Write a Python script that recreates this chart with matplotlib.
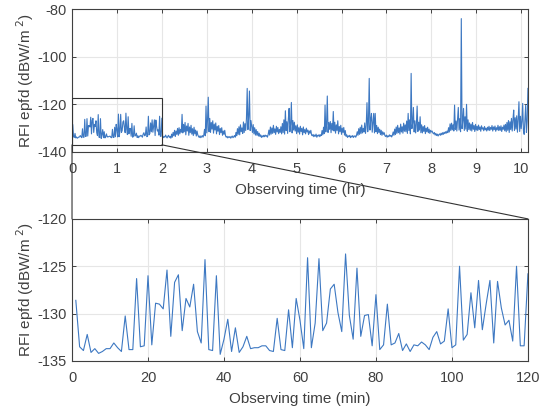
import numpy as np
import matplotlib
matplotlib.use("Agg")
import matplotlib.pyplot as plt
from matplotlib.patches import Rectangle, ConnectionPatch

plt.rcParams['font.family'] = ['Liberation Sans', 'DejaVu Sans']
plt.rcParams['axes.unicode_minus'] = False

# first two hours, one value per minute (minutes 1..120)
epfd_first2h = [
    -128.6, -133.5, -133.9, -132.2, -134.1, -133.7, -134.2, -134.0, -133.7, -133.7,
    -133.1, -133.6, -134.0, -130.25, -133.8, -133.8, -126.3, -133.5, -133.4, -126.0,
    -133.3, -128.9, -129.0, -129.5, -125.4, -132.4, -126.7, -125.9, -131.8, -128.4,
    -129.3, -126.9, -131.9, -133.1, -124.3, -133.8, -133.9, -126.0, -134.3, -132.7,
    -130.6, -134.0, -131.5, -134.1, -133.5, -132.4, -133.7, -133.6, -133.6, -133.4,
    -133.4, -133.9, -134.0, -130.5, -133.8, -133.9, -129.6, -133.6, -128.4, -130.7,
    -133.7, -124.1, -133.6, -131.0, -124.2, -131.8, -131.0, -127.4, -126.9, -129.9,
    -131.9, -123.7, -130.2, -132.7, -125.2, -132.4, -130.2, -130.1, -133.4, -128.0,
    -133.8, -133.3, -129.0, -133.3, -133.1, -132.1, -133.9, -133.2, -134.0, -133.3,
    -133.4, -133.0, -133.3, -133.8, -132.5, -131.9, -133.2, -132.9, -129.5, -133.6,
    -133.3, -125.0, -132.8, -132.2, -127.8, -131.5, -126.5, -131.7, -129.0, -126.5,
    -133.1, -126.6, -129.4, -131.2, -130.7, -132.9, -125.0, -133.4, -133.4, -125.8,
]

epfd_hour2 = [
    -133.2, -134.0, -133.5, -133.8, -132.9, -133.6, -134.1, -133.4, -133.0, -133.9, -133.5, -134.2,
    -132.5, -133.8, -131.8, -133.2, -130.9, -133.5, -131.2, -132.6, -130.1, -133.0, -129.8, -132.4,
    -130.5, -131.7, -124.2,
    -132.0, -128.4, -131.5, -127.6, -132.8, -129.1, -131.2, -128.0, -133.0, -129.5, -131.9, -128.8,
    -132.5, -130.2, -133.1, -129.6, -132.4, -130.8, -133.3, -131.2, -132.8,
    -133.5, -133.9, -133.2, -134.0, -133.6, -133.1, -133.8, -132.9,
    -130.5, -133.2, -120.7,
]
epfd_hour3 = [
    -132.0, -126.5, -117.0, -131.5,
    -125.9, -131.8, -127.6, -130.4, -126.9, -132.1, -128.3, -130.8, -127.8, -132.4, -129.2, -131.3,
    -128.9, -132.7, -130.1, -131.9, -129.8, -133.0, -131.2, -132.6, -130.9,
    -133.2, -133.8, -133.4, -134.1, -133.6, -133.9, -133.5, -134.2, -133.7, -133.3, -134.0, -133.6,
    -133.1, -133.8,
    -131.8, -133.2, -130.2, -132.6, -129.4, -132.8, -128.6, -131.5, -129.9, -132.2, -127.4, -131.8,
    -128.1, -131.0,
    -126.0, -113.3, -130.6, -125.2, -114.4, -131.0, -126.8, -129.5,
]
epfd_hour4 = [
    -131.8, -128.5, -132.4, -129.8, -132.9, -130.6, -133.0, -131.4, -133.3, -132.1,
    -133.5, -132.8, -133.9, -133.2, -133.7, -133.0, -133.6, -132.9, -133.4, -133.1, -133.8, -132.7,
    -130.8, -132.9, -129.5, -132.5, -129.9, -132.2, -128.8, -131.9, -130.3, -132.6, -129.2, -131.6,
    -129.7, -132.3, -130.5, -131.8, -129.4, -132.4,
    -128.0, -131.9, -126.5, -132.5, -122.7, -131.0, -127.3, -132.2, -126.0, -121.7, -131.5, -128.5,
    -119.2, -132.0, -126.8, -130.8, -127.5, -131.2,
    -129.0, -132.3,
]
epfd_hour5 = [
    -128.6, -131.7, -129.8, -132.5, -129.2, -131.4, -130.1, -132.8, -129.5, -131.9, -130.6, -132.4,
    -130.0, -131.6, -130.8, -132.7, -131.2, -132.1, -130.9, -132.9,
    -133.2, -132.6, -133.6, -132.9, -133.4, -132.5, -133.8, -133.0, -133.3, -132.7, -133.6, -132.8,
    -133.1,
    -131.0, -132.8, -129.6, -132.3, -120.3, -131.6, -128.4, -116.5, -131.8, -127.6, -130.5, -127.2,
    -131.9, -128.0, -130.8, -123.0,
    -131.2, -127.5, -132.1, -128.6, -131.0, -126.9, -132.4, -129.3, -131.5, -128.8, -132.6,
]
epfd_hour6 = [
    -130.0, -131.8, -129.7, -132.9, -131.0,
    -133.4, -132.8, -133.9, -133.2, -133.6, -133.0, -134.0, -133.3, -133.7, -133.1, -133.9, -133.4,
    -133.2, -133.8, -133.0,
    -131.5, -133.0, -130.2, -132.6, -129.6, -132.3, -128.7, -132.0, -130.1, -131.6, -127.8, -132.2,
    -128.9,
    -119.3, -131.5, -127.0, -109.1, -130.8, -126.2, -123.8, -131.7, -127.5, -123.8, -132.0, -123.8,
    -131.5,
    -128.9, -132.3, -129.6, -131.8, -130.4, -132.7, -130.9, -133.0, -131.5, -132.6, -131.9, -133.2,
    -133.5, -132.9,
]
epfd_hour7 = [
    -133.8, -133.2, -133.6, -132.8, -133.4, -133.0, -133.7, -132.9,
    -131.6, -133.0, -130.4, -132.7, -129.5, -132.2, -128.8, -131.9, -129.9, -132.5, -128.3, -131.6,
    -129.4, -132.1, -127.9, -131.3, -128.6,
    -131.5, -127.0, -132.2, -123.8, -131.0, -126.5, -132.4, -107.0, -130.2, -127.8, -121.3, -131.6,
    -126.9, -132.0, -128.2, -120.7, -131.4, -127.5, -130.8, -125.2, -131.9,
    -128.6, -132.0, -129.3, -131.4, -128.9, -132.3, -130.0, -131.5, -129.6, -131.9, -130.4, -132.2,
    -130.9, -131.6,
]
epfd_hour8 = [
    -131.2, -132.0,
    -132.4, -131.8, -132.9, -132.2, -133.1, -132.5, -133.3, -132.7, -132.4, -133.0, -132.1, -132.8,
    -131.9, -132.6, -131.7, -132.3, -131.5, -132.1, -131.2, -131.9,
    -129.8, -131.6, -128.2, -131.0, -127.9, -130.7, -128.6, -131.2, -120.3, -130.5,
    -127.0, -131.2, -126.4, -121.3, -130.8, -126.0, -131.5, -84.0, -130.2, -126.8, -121.7, -131.0,
    -125.2, -130.4, -120.0, -131.3, -126.5, -130.6,
    -127.8, -130.9, -128.3, -131.2, -127.6, -130.5, -128.9, -131.4, -128.4, -130.8,
]
epfd_hour9 = [
    -129.2, -131.0, -128.7, -130.6, -129.5, -131.3, -129.0, -130.4, -129.8, -131.1, -129.3, -130.7,
    -130.0, -131.2, -129.6,
    -130.8, -129.2, -131.0, -129.7, -130.5, -128.9, -131.2, -129.5, -130.6, -129.1, -131.3, -129.8,
    -130.7, -128.8, -131.0, -129.4, -130.9, -129.0, -131.4, -129.6, -130.5, -128.7, -131.1,
    -128.4, -131.5, -127.6, -130.9, -126.8, -131.8, -127.3, -130.6, -125.9, -131.2, -126.4, -122.4,
    -131.0, -125.6, -130.4, -124.8, -131.7, -126.2, -118.9, -131.4, -125.0, -130.2,
]
epfd_hour10 = [
    -127.1, -119.6, -131.0, -132.6, -126.3, -120.3, -131.8, -127.0, -113.3,
]

epfd_all = (epfd_first2h + epfd_hour2 + epfd_hour3 + epfd_hour4 + epfd_hour5
            + epfd_hour6 + epfd_hour7 + epfd_hour8 + epfd_hour9 + epfd_hour10)
minutes_all = np.arange(1, len(epfd_all) + 1)
minutes_zoom = np.arange(1, len(epfd_first2h) + 1)

line_col = '#3d78c2'
txt_col = '#404040'
grid_col = '#e6e6e6'
ylab = 'RFI epfd (dBW/m$^{\\ 2}$)'

fig = plt.figure(figsize=(5.46, 4.13), dpi=100)
ax1 = fig.add_axes([0.1319, 0.632, 0.835, 0.346])
ax2 = fig.add_axes([0.1319, 0.126, 0.835, 0.344])


def style(ax):
    ax.grid(True, color=grid_col, linewidth=0.8)
    ax.set_axisbelow(True)
    for s in ax.spines.values():
        s.set_color(txt_col)
        s.set_linewidth(0.8)
    ax.tick_params(direction='in', length=3, width=0.7, colors=txt_col,
                   labelsize=10.5, top=True, right=True)
    ax.tick_params(axis='x', pad=7)
    ax.tick_params(axis='y', pad=4)


ax1.plot(minutes_all / 60.0, epfd_all, color=line_col, linewidth=0.8)
ax1.set_xlim(0, len(epfd_all) / 60.0)
ax1.set_ylim(-140, -80)
ax1.set_xticks(range(0, 11))
ax1.set_yticks([-140, -120, -100, -80])
ax1.set_xlabel('Observing time (hr)', fontsize=11, color=txt_col, labelpad=5)
ax1.set_ylabel(ylab, fontsize=11, color=txt_col, labelpad=1)
style(ax1)

ax2.plot(minutes_zoom, epfd_first2h, color=line_col, linewidth=0.8)
ax2.set_xlim(0, 120)
ax2.set_ylim(-135, -120)
ax2.set_xticks(range(0, 121, 20))
ax2.set_yticks([-135, -130, -125, -120])
ax2.set_xlabel('Observing time (min)', fontsize=11, color=txt_col, labelpad=5)
ax2.set_ylabel(ylab, fontsize=11, color=txt_col, labelpad=1)
style(ax2)

# zoom box and connectors
box_lo, box_hi = -137.0, -117.5
ax1.add_patch(Rectangle((0, box_lo), 2, box_hi - box_lo, fill=False,
                        edgecolor='#333333', linewidth=0.8, zorder=5))
for xa, xb in [(0, 0), (2, 120)]:
    con = ConnectionPatch(xyA=(xa, box_lo), coordsA=ax1.transData,
                          xyB=(xb, -120), coordsB=ax2.transData,
                          color='#333333', linewidth=0.8)
    fig.add_artist(con)

fig.savefig('out.png', dpi=100)
